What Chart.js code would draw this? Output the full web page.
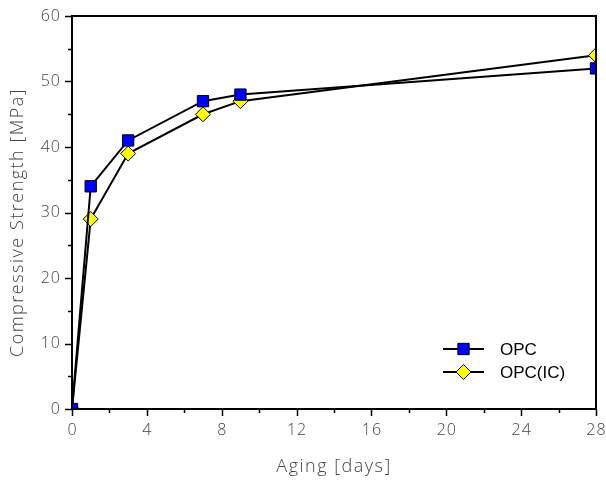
<!DOCTYPE html>
<html>
<head>
<meta charset="utf-8">
<script src="https://cdn.jsdelivr.net/npm/chart.js@4"></script>
<style>
  html, body { margin: 0; padding: 0; background: #fff; }
  #wrap { width: 606px; height: 484px; }
</style>
</head>
<body>
<div id="wrap"><canvas id="chart" width="606" height="484"></canvas></div>
<script>
// data
const agingDays = [0, 1, 3, 7, 9, 28];
const opcStrength = [0, 34, 41, 47, 48, 52];
const opcIcStrength = [0, 29, 39, 45, 47, 54];
const xTicks = [0, 4, 8, 12, 16, 20, 24, 28];
const yTicks = [0, 10, 20, 30, 40, 50, 60];
const seriesNames = ['OPC', 'OPC(IC)'];

const tickFont = '300 16px "Open Sans", sans-serif';
const titleFont = '300 18px "Open Sans", sans-serif';
const tickColor = '#444';

const toPoints = (xs, ys) => xs.map((x, i) => ({ x: x, y: ys[i] }));

// frame, outward major/minor ticks, axis titles, legend
const decorPlugin = {
  id: 'decor',
  afterDatasetsDraw(chart) {
    const { ctx, chartArea: a, scales: { x, y } } = chart;
    ctx.save();
    ctx.strokeStyle = '#000';
    ctx.lineWidth = 2;
    ctx.strokeRect(a.left, a.top, a.right - a.left, a.bottom - a.top);

    ctx.lineWidth = 1.5;
    ctx.beginPath();
    for (let v = 0; v <= 28; v += 2) {
      const px = Math.round(x.getPixelForValue(v)) + 0.5;
      const len = v % 4 === 0 ? 7 : 4;
      ctx.moveTo(px, a.bottom); ctx.lineTo(px, a.bottom + len);
    }
    for (let v = 0; v <= 60; v += 5) {
      const py = Math.round(y.getPixelForValue(v)) + 0.5;
      const len = v % 10 === 0 ? 7 : 4;
      ctx.moveTo(a.left, py); ctx.lineTo(a.left - len, py);
    }
    ctx.stroke();

    // tick labels
    ctx.fillStyle = tickColor;
    ctx.font = tickFont;
    ctx.letterSpacing = '1px';
    ctx.textAlign = 'center'; ctx.textBaseline = 'top';
    xTicks.forEach(v => ctx.fillText(String(v), x.getPixelForValue(v) + 0.5, a.bottom + 13));
    ctx.textAlign = 'right'; ctx.textBaseline = 'middle';
    yTicks.forEach(v => ctx.fillText(String(v), a.left - 11, y.getPixelForValue(v)));

    // axis titles
    ctx.font = titleFont;
    ctx.letterSpacing = '1.5px';
    ctx.textAlign = 'center'; ctx.textBaseline = 'middle';
    ctx.fillText('Aging [days]', (a.left + a.right) / 2, 467);
    ctx.save();
    ctx.translate(18, (a.top + a.bottom) / 2 + 10);
    ctx.rotate(-Math.PI / 2);
    ctx.fillText('Compressive Strength [MPa]', 0, 0);
    ctx.restore();
    ctx.letterSpacing = '0px';

    // legend
    const ds = chart.data.datasets;
    const rows = [349, 372];
    ds.forEach((d, i) => {
      const ly = rows[i];
      ctx.strokeStyle = '#000'; ctx.lineWidth = 2;
      ctx.beginPath(); ctx.moveTo(443, ly); ctx.lineTo(484, ly); ctx.stroke();
      ctx.fillStyle = d.pointBackgroundColor;
      ctx.strokeStyle = '#000'; ctx.lineWidth = 1;
      ctx.beginPath();
      if (d.pointStyle === 'rect') {
        const s = Math.SQRT1_2 * d.pointRadius;
        ctx.rect(463.5 - s, ly - s, 2 * s, 2 * s);
      } else {
        const r = d.pointRadius;
        ctx.moveTo(463.5 - r, ly); ctx.lineTo(463.5, ly - r);
        ctx.lineTo(463.5 + r, ly); ctx.lineTo(463.5, ly + r); ctx.closePath();
      }
      ctx.fill(); ctx.stroke();
      ctx.fillStyle = '#000';
      ctx.font = '17px "Liberation Sans", Arial, sans-serif';
      ctx.textAlign = 'left'; ctx.textBaseline = 'middle';
      ctx.fillText(d.label, 500, ly + 1);
    });
    ctx.restore();
  }
};

new Chart(document.getElementById('chart'), {
  type: 'scatter',
  data: {
    datasets: [
      {
        label: seriesNames[0],
        data: toPoints(agingDays, opcStrength),
        showLine: true,
        borderColor: '#000',
        borderWidth: 2,
        pointStyle: 'rect',
        pointRadius: 8,
        pointBackgroundColor: '#0000ff',
        pointBorderColor: '#000',
        pointBorderWidth: 1,
        clip: 0
      },
      {
        label: seriesNames[1],
        data: toPoints(agingDays, opcIcStrength),
        showLine: true,
        borderColor: '#000',
        borderWidth: 2,
        pointStyle: 'rectRot',
        pointRadius: 7.5,
        pointBackgroundColor: '#ffff00',
        pointBorderColor: '#000',
        pointBorderWidth: 1,
        clip: 0
      }
    ]
  },
  options: {
    responsive: false,
    animation: false,
    layout: { padding: { left: 0, right: 10, top: 16, bottom: 0 } },
    plugins: { legend: { display: false }, tooltip: { enabled: false } },
    scales: {
      x: {
        type: 'linear', min: 0, max: 28,
        grid: { display: false, drawTicks: false },
        border: { display: false },
        ticks: { display: false },
        afterFit(s) { s.height = 75; }
      },
      y: {
        type: 'linear', min: 0, max: 60,
        grid: { display: false, drawTicks: false },
        border: { display: false },
        ticks: { display: false },
        afterFit(s) { s.width = 72; }
      }
    }
  },
  plugins: [decorPlugin]
});
</script>
</body>
</html>
